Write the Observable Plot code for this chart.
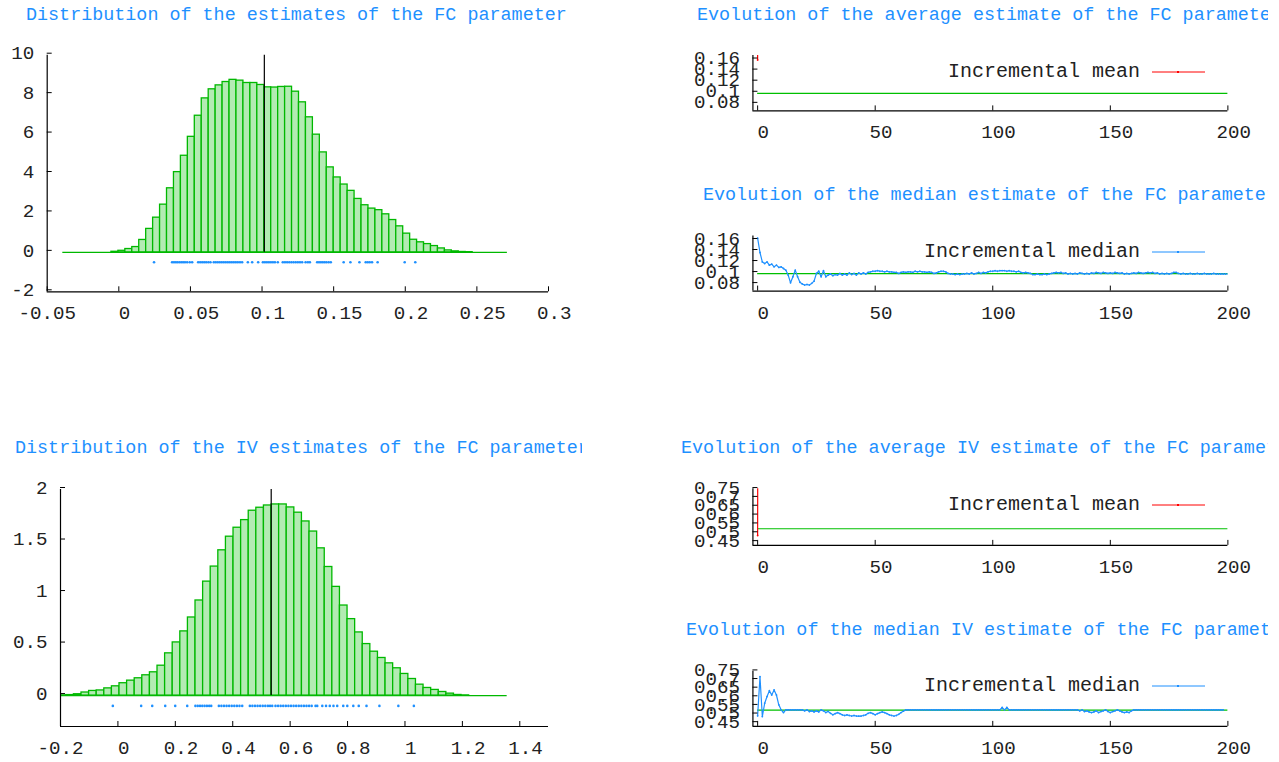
<!DOCTYPE html>
<html><head><meta charset="utf-8">
<script src="https://cdn.jsdelivr.net/npm/d3@7"></script>
<script src="https://cdn.jsdelivr.net/npm/@observablehq/plot@0.6"></script>
<style>
body{margin:0;background:#fff;width:1279px;height:762px;overflow:hidden;position:relative;font-family:"Liberation Mono",monospace;}
.title{position:absolute;color:#1e90ff;font-size:18.4px;line-height:20px;white-space:pre;overflow:hidden;}
.panel{position:absolute;}
.legend{position:absolute;font-size:20px;line-height:20px;white-space:pre;color:#222;text-align:right;}
.sample{position:absolute;}
</style></head><body>
<script>
// ---------- data ----------
const titles = [
  "Distribution of the estimates of the FC parameter",
  "Evolution of the average estimate of the FC parameter",
  "Evolution of the median estimate of the FC parameter",
  "Distribution of the IV estimates of the FC parameter",
  "Evolution of the average IV estimate of the FC parameter",
  "Evolution of the median IV estimate of the FC parameter"
];
const legendLabels = ["Incremental mean", "Incremental median"];

// histogram of the FC estimates (density per bin)
const histFCStart = -0.0391;
const histFCWidth = 0.00485;
const histFC = [0,0,0,0,0,0,0,0.03,0.08,0.17,0.27,0.63,1.19,1.76,2.42,3.25,4.07,4.9,5.86,6.93,7.81,8.27,8.47,8.64,8.75,8.71,8.59,8.59,8.49,8.37,8.36,8.39,8.4,8.15,7.61,6.85,5.97,5.07,4.31,3.8,3.44,3.12,2.71,2.39,2.22,2.14,1.93,1.64,1.32,0.95,0.64,0.51,0.42,0.32,0.2,0.1,0.05,0.02,0.01,0,0,0,0,0];
const estFC = [0.0246,0.0372,0.0385,0.0398,0.041,0.0423,0.0436,0.0449,0.0462,0.0477,0.0495,0.0512,0.0554,0.0568,0.0582,0.0596,0.061,0.0625,0.064,0.0663,0.0677,0.0691,0.0705,0.0719,0.0733,0.0747,0.0761,0.0775,0.0789,0.0803,0.0817,0.0831,0.0846,0.0861,0.0901,0.0931,0.0973,0.1006,0.102,0.1034,0.1048,0.1062,0.1076,0.109,0.111,0.1145,0.116,0.1175,0.119,0.1205,0.122,0.1235,0.125,0.1265,0.128,0.1304,0.132,0.1334,0.1385,0.1398,0.1411,0.1424,0.1437,0.145,0.1465,0.148,0.157,0.1617,0.168,0.1724,0.1738,0.1752,0.1768,0.1807,0.1996,0.207];
const refFC = 0.1016;
const fcXTicks = [-0.05,0,0.05,0.1,0.15,0.2,0.25,0.3];
const fcYTicks = [-2,0,2,4,6,8,10];

// histogram of the IV estimates
const histIVStart = -0.2063;
const histIVWidth = 0.02648;
const histIV = [0.002,0.005,0.013,0.03,0.045,0.05,0.07,0.09,0.12,0.145,0.168,0.197,0.226,0.29,0.41,0.516,0.623,0.758,0.923,1.106,1.252,1.41,1.542,1.629,1.703,1.794,1.823,1.845,1.855,1.855,1.826,1.775,1.69,1.592,1.429,1.248,1.055,0.874,0.742,0.613,0.5,0.426,0.365,0.313,0.265,0.21,0.161,0.106,0.074,0.055,0.035,0.019,0.006,0.002,0,0,0,0,0];
const estIV = [-0.0177,0.081,0.1195,0.1648,0.1996,0.2415,0.27,0.278,0.286,0.294,0.302,0.31,0.318,0.325,0.3516,0.3605,0.3695,0.3785,0.3875,0.3965,0.4055,0.4145,0.4235,0.433,0.4597,0.4685,0.4775,0.4865,0.4955,0.5045,0.5135,0.5225,0.53,0.5376,0.549,0.558,0.567,0.576,0.585,0.594,0.603,0.612,0.621,0.63,0.639,0.648,0.657,0.666,0.675,0.6885,0.6944,0.712,0.725,0.738,0.751,0.764,0.785,0.799,0.82,0.839,0.866,0.911,0.977,1.031];
const refIV = 0.534;
const ivXTicks = [-0.2,0,0.2,0.4,0.6,0.8,1,1.2,1.4];
const ivYTicks = [0,0.5,1,1.5,2];

// evolution panels
const evoXTicks = [0,50,100,150,200];
const fcEvoYTicks = [0.08,0.1,0.12,0.14,0.16];
const ivEvoYTicks = [0.45,0.5,0.55,0.6,0.65,0.7,0.75];
const meanFC = [0.162, 3.4];
const meanIV = [0.496, 9.5];
const medianFC = [0.166,0.14,0.123,0.12,0.123,0.117,0.119,0.114,0.117,0.113,0.114,0.111,0.108,0.099,0.085,0.096,0.108,0.096,0.086,0.083,0.081,0.082,0.081,0.084,0.088,0.102,0.106,0.096,0.107,0.096,0.099,0.101,0.098,0.1,0.099,0.102,0.099,0.101,0.099,0.103,0.1,0.102,0.099,0.103,0.101,0.103,0.101,0.104,0.105,0.106,0.106,0.107,0.106,0.106,0.105,0.106,0.105,0.105,0.104,0.104,0.102,0.104,0.105,0.104,0.105,0.105,0.104,0.106,0.105,0.106,0.105,0.105,0.104,0.105,0.104,0.102,0.103,0.105,0.106,0.106,0.105,0.102,0.101,0.101,0.1,0.101,0.1,0.101,0.101,0.102,0.101,0.103,0.101,0.102,0.104,0.102,0.104,0.103,0.105,0.106,0.106,0.107,0.106,0.107,0.107,0.107,0.106,0.107,0.106,0.106,0.105,0.106,0.104,0.103,0.104,0.103,0.102,0.1,0.1,0.101,0.1,0.1,0.101,0.1,0.101,0.102,0.103,0.104,0.103,0.104,0.102,0.103,0.101,0.102,0.101,0.102,0.101,0.103,0.102,0.101,0.102,0.101,0.103,0.102,0.104,0.103,0.102,0.104,0.103,0.102,0.103,0.102,0.104,0.103,0.102,0.103,0.101,0.102,0.101,0.102,0.103,0.102,0.104,0.103,0.102,0.103,0.104,0.103,0.104,0.102,0.103,0.101,0.102,0.101,0.102,0.101,0.102,0.104,0.104,0.102,0.101,0.102,0.101,0.101,0.102,0.101,0.101,0.102,0.101,0.101,0.102,0.101,0.101,0.101,0.102,0.101,0.101,0.101,0.101,0.101,0.101];
const medianIV = [0.501,0.728,0.497,0.574,0.613,0.647,0.622,0.651,0.622,0.565,0.536,0.52,0.536,0.536,0.536,0.536,0.536,0.536,0.536,0.536,0.53,0.536,0.526,0.53,0.524,0.53,0.524,0.536,0.53,0.52,0.527,0.516,0.507,0.514,0.52,0.514,0.507,0.503,0.507,0.503,0.5,0.503,0.5,0.499,0.5,0.503,0.507,0.516,0.52,0.514,0.507,0.514,0.52,0.524,0.52,0.514,0.507,0.503,0.5,0.503,0.51,0.52,0.528,0.536,0.536,0.536,0.536,0.536,0.536,0.536,0.536,0.536,0.536,0.536,0.536,0.536,0.536,0.536,0.536,0.536,0.536,0.536,0.536,0.536,0.536,0.536,0.536,0.536,0.536,0.536,0.536,0.536,0.536,0.536,0.536,0.536,0.536,0.536,0.536,0.536,0.536,0.536,0.536,0.536,0.55,0.536,0.55,0.536,0.536,0.536,0.536,0.536,0.536,0.536,0.536,0.536,0.536,0.536,0.536,0.536,0.536,0.536,0.536,0.536,0.536,0.536,0.536,0.536,0.536,0.536,0.536,0.536,0.536,0.536,0.536,0.536,0.536,0.53,0.536,0.526,0.53,0.524,0.52,0.524,0.53,0.52,0.526,0.53,0.536,0.526,0.52,0.526,0.53,0.536,0.53,0.524,0.52,0.524,0.52,0.53,0.536,0.536,0.536,0.536,0.536,0.536,0.536,0.536,0.536,0.536,0.536,0.536,0.536,0.536,0.536,0.536,0.536,0.536,0.536,0.536,0.536,0.536,0.536,0.536,0.536,0.536,0.536,0.536,0.536,0.536,0.536,0.536,0.536,0.536,0.536,0.536,0.536,0.536,0.536];

// ---------- styling ----------
const GREEN = "#00b800", FILL = "#b3ebb3", BLUE = "#1e90ff", RED = "#ff0000", INK = "#222";
const fmtX = d => (d < 0 ? String(d) : " " + d);
const fmtY = d => String(d);

function place(node, left, top) {
  const wrap = document.createElement("div");
  wrap.className = "panel";
  wrap.style.left = left + "px"; wrap.style.top = top + "px";
  wrap.appendChild(node);
  document.body.appendChild(wrap);
}
function title(text, left, cy, right) {
  const d = document.createElement("div");
  d.className = "title"; d.textContent = text;
  d.style.left = left + "px"; d.style.top = (cy - 8) + "px"; d.style.width = (right - left) + "px";
  document.body.appendChild(d);
}
function legend(text, color, right, cy) {
  const d = document.createElement("div");
  d.className = "legend"; d.textContent = text;
  d.style.left = (right - 300) + "px"; d.style.width = "300px"; d.style.top = (cy - 8) + "px";
  document.body.appendChild(d);
  const ns = "http://www.w3.org/2000/svg";
  const s = document.createElementNS(ns, "svg");
  s.setAttribute("width", 56); s.setAttribute("height", 8);
  s.setAttribute("class", "sample");
  s.style.left = (right + 12) + "px"; s.style.top = (cy - 2) + "px";
  s.innerHTML = `<line x1="0" x2="53" y1="4" y2="4" stroke="${color}" stroke-width="1"/><rect x="25" y="3" width="2" height="2" fill="${color}"/>`;
  document.body.appendChild(s);
}

function histPlot(o) {
  const bins = o.values.map((v, i) => ({x1: o.start + i * o.width, x2: o.start + (i + 1) * o.width, y: v}));
  const end = o.start + o.values.length * o.width;
  return Plot.plot({
    width: o.W, height: o.H,
    marginLeft: o.ml, marginRight: o.mr, marginTop: o.mt, marginBottom: o.mb,
    style: {fontFamily: "Liberation Mono", fontSize: "19.2px", color: INK, background: "transparent", overflow: "visible"},
    x: {domain: o.xDomain}, y: {domain: o.yDomain},
    marks: [
      Plot.ruleY([0], {x1: Math.max(o.start, o.xDomain[0]), x2: end, stroke: GREEN, strokeWidth: 1.3}),
      Plot.rect(bins, {x1: "x1", x2: "x2", y1: 0, y2: "y", fill: FILL, stroke: GREEN, strokeWidth: 1.3, clip: true}),
      Plot.ruleX([o.ref], {y1: 0, y2: o.yDomain[1], stroke: "#000", strokeWidth: 1.2}),
      Plot.dot(o.dots, {x: d => d, y: o.dotY, r: 1.3, fill: BLUE, stroke: null}),
      Plot.ruleY([o.yDomain[0]], {stroke: "#000", strokeWidth: 1.2}),
      Plot.ruleX([o.xDomain[0]], {stroke: "#000", strokeWidth: 1.2}),
      Plot.axisX(o.xTicks, {label: null, tickSize: -5, tickPadding: 19, tickFormat: fmtX, fill: INK, stroke: "#000"}),
      Plot.axisY(o.yTicks, {label: null, tickSize: -5, tickPadding: 18, dy: -2, tickFormat: fmtY, fill: INK, stroke: "#000"})
    ]
  });
}

function evoPlot(o) {
  return Plot.plot({
    width: 640, height: 110,
    marginLeft: o.ml, marginRight: o.mr, marginTop: o.mt, marginBottom: o.mb,
    style: {fontFamily: "Liberation Mono", fontSize: "19.2px", color: INK, background: "transparent", overflow: "visible"},
    x: {domain: [-2, 200]}, y: {domain: o.yDomain},
    marks: [
      Plot.ruleY([o.ref], {x1: 0, x2: 200, stroke: "#00c000", strokeWidth: 1.2}),
      Plot.line(o.series, {x: (d, i) => i, y: d => d, stroke: o.color, strokeWidth: 1.2, clip: true}),
      Plot.dot(o.series, {x: (d, i) => i, y: d => d, r: 0.9, fill: o.color, stroke: null, clip: true}),
      Plot.ruleY([o.yDomain[0]], {x1: -2, x2: 200, stroke: "#000", strokeWidth: 1.2}),
      Plot.ruleX([-2], {stroke: "#000", strokeWidth: 1.2}),
      Plot.axisX(evoXTicks, {label: null, tickSize: -5, tickPadding: 19, tickFormat: fmtX, fill: INK, stroke: "#000"}),
      Plot.axisY(o.yTicks, {label: null, tickSize: -5, tickPadding: 18, dy: -3, tickFormat: fmtY, fill: INK, stroke: "#000"})
    ]
  });
}

// ---------- left column ----------
title(titles[0], 26, 14, 590);
place(histPlot({values: histFC, start: histFCStart, width: histFCWidth, xDomain: [-0.05, 0.3], yDomain: [-2, 10],
  xTicks: fcXTicks, yTicks: fcYTicks, ref: refFC, dots: estFC, dotY: -0.5,
  W: 600, H: 340, ml: 46.7, mr: 52, mt: 54.7, mb: 48.7}), 0, 0);

title(titles[3], 15, 447, 582);
place(histPlot({values: histIV, start: histIVStart, width: histIVWidth, xDomain: [-0.2, 1.5], yDomain: [-0.3, 2],
  xTicks: ivXTicks, yTicks: ivYTicks, ref: refIV, dots: estIV, dotY: -0.1,
  W: 600, H: 320, ml: 60, mr: 52, mt: 49, mb: 34}), 0, 440);

// ---------- right column ----------
const R = {ml: 112.6, mr: 51.7};
title(titles[1], 697, 14, 1268);
place(evoPlot({...R, mt: 15, mb: 39.5, yDomain: [0.07, 0.17], yTicks: fcEvoYTicks, ref: refFC, series: meanFC, color: RED}), 640, 40);
legend(legendLabels[0], RED, 1140, 70);

title(titles[2], 703, 194, 1268);
place(evoPlot({...R, mt: 15.5, mb: 39.3, yDomain: [0.07, 0.17], yTicks: fcEvoYTicks, ref: refFC, series: medianFC, color: BLUE}), 640, 220);
legend(legendLabels[1], BLUE, 1140, 250);

title(titles[4], 681, 447, 1268);
place(evoPlot({...R, mt: 14.3, mb: 39, yDomain: [0.44, 0.76], yTicks: ivEvoYTicks, ref: refIV, series: meanIV, color: RED}), 640, 474);
legend(legendLabels[0], RED, 1140, 503);

title(titles[5], 686, 629, 1268);
place(evoPlot({...R, mt: 14.7, mb: 40, yDomain: [0.44, 0.76], yTicks: ivEvoYTicks, ref: refIV, series: medianIV, color: BLUE}), 640, 656);
legend(legendLabels[1], BLUE, 1140, 684);
</script>
</body></html>
